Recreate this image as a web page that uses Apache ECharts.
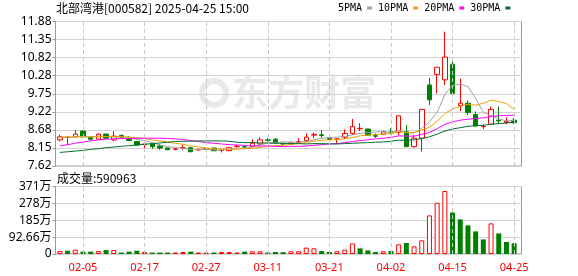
<!DOCTYPE html>
<html><head><meta charset="utf-8">
<script src="https://cdn.jsdelivr.net/npm/echarts@6/dist/echarts.min.js"></script>
<style>html,body{margin:0;padding:0;background:#fff}#c{width:578px;height:276px}</style>
</head><body><div id="c"></div>
<script>
// ---- data ----
const dates = ['01-23','01-24','01-27','02-05','02-06','02-07','02-10','02-11','02-12','02-13',
 '02-14','02-17','02-18','02-19','02-20','02-21','02-24','02-25','02-26','02-27',
 '02-28','03-03','03-04','03-05','03-06','03-07','03-10','03-11','03-12','03-13',
 '03-14','03-17','03-18','03-19','03-20','03-21','03-24','03-25','03-26','03-27',
 '03-28','03-31','04-01','04-02','04-03','04-07','04-08','04-09','04-10','04-11',
 '04-14','04-15','04-16','04-17','04-18','04-21','04-22','04-23','04-24','04-25'];
const openP = [8.39,8.46,8.48,8.65,8.46,8.41,8.56,8.39,8.52,8.44,
 8.34,8.25,8.27,8.21,8.15,8.11,8.15,8.16,8.09,8.11,
 8.15,8.08,8.07,8.19,8.19,8.19,8.27,8.39,8.41,8.28,
 8.27,8.32,8.37,8.53,8.54,8.43,8.40,8.47,8.58,8.72,
 8.71,8.51,8.56,8.62,8.61,8.63,8.19,8.44,10.01,10.32,
 10.16,10.62,9.40,9.47,9.14,8.78,8.85,8.97,8.90,8.97];
const closeP = [8.48,8.47,8.56,8.48,8.41,8.56,8.44,8.50,8.47,8.37,
 8.24,8.27,8.19,8.15,8.10,8.12,8.16,8.04,8.11,8.13,
 8.07,8.09,8.16,8.20,8.18,8.29,8.39,8.38,8.30,8.27,
 8.30,8.34,8.47,8.55,8.52,8.40,8.42,8.58,8.78,8.73,
 8.53,8.50,8.63,8.61,9.10,8.19,8.44,9.29,9.57,10.53,
 10.83,9.76,9.47,9.20,8.80,8.79,9.29,8.95,8.93,8.90];
const lowP = [8.35,8.24,8.47,8.47,8.38,8.40,8.43,8.35,8.44,8.36,
 8.22,8.12,8.12,8.10,8.09,8.08,8.10,8.03,8.08,8.09,
 8.06,8.02,8.06,8.16,8.16,8.18,8.24,8.34,8.26,8.24,
 8.26,8.29,8.34,8.44,8.45,8.38,8.29,8.42,8.53,8.65,
 8.52,8.45,8.53,8.55,8.53,8.18,8.16,8.04,9.42,9.76,
 10.01,9.74,9.24,9.12,8.79,8.71,8.84,8.85,8.85,8.86];
const highP = [8.54,8.50,8.68,8.67,8.47,8.58,8.57,8.65,8.55,8.50,
 8.36,8.28,8.28,8.26,8.16,8.15,8.24,8.17,8.12,8.14,
 8.16,8.11,8.18,8.24,8.22,8.41,8.47,8.44,8.44,8.30,
 8.31,8.44,8.58,8.61,8.68,8.46,8.44,8.70,9.01,8.88,
 8.72,8.58,8.66,8.73,9.12,8.83,8.53,9.30,10.22,10.53,
 11.58,10.70,10.19,9.55,9.23,8.85,9.37,9.37,9.06,9.03];
// volume in 万手
const volume = [16,18,24,13,13,16,22,22,8,13,
 18,11,8,8,8,8,11,13,8,8,
 8,11,11,8,13,15,15,8,11,10,
 15,15,35,31,16,11,15,24,58,31,
 20,11,15,16,53,60,42,75,212,281,
 346,228,190,157,124,80,168,113,66,59.0963];
const ma5 = [8.46,8.47,8.48,8.49,8.48,8.50,8.49,8.48,8.48,8.47,
 8.40,8.37,8.31,8.24,8.19,8.17,8.14,8.11,8.11,8.11,
 8.10,8.09,8.11,8.13,8.14,8.18,8.24,8.29,8.31,8.33,
 8.33,8.32,8.34,8.39,8.44,8.46,8.47,8.49,8.54,8.58,
 8.61,8.62,8.63,8.60,8.67,8.61,8.59,8.73,8.92,9.20,
 9.73,10.00,10.03,9.96,9.61,9.20,9.11,9.01,8.95,8.97];
const ma10 = [8.47,8.47,8.48,8.48,8.48,8.48,8.49,8.49,8.48,8.47,
 8.45,8.43,8.39,8.36,8.33,8.29,8.26,8.21,8.18,8.15,
 8.13,8.12,8.11,8.12,8.13,8.14,8.17,8.20,8.22,8.23,
 8.26,8.28,8.31,8.35,8.38,8.39,8.40,8.42,8.46,8.51,
 8.53,8.55,8.56,8.57,8.63,8.61,8.61,8.68,8.76,8.94,
 9.17,9.30,9.38,9.44,9.41,9.47,9.56,9.52,9.46,9.29];
const ma20 = [8.21,8.25,8.29,8.33,8.36,8.39,8.41,8.42,8.43,8.43,
 8.44,8.44,8.44,8.44,8.43,8.42,8.40,8.37,8.34,8.31,
 8.29,8.27,8.25,8.24,8.23,8.21,8.21,8.21,8.20,8.19,
 8.20,8.20,8.21,8.23,8.25,8.27,8.28,8.31,8.34,8.37,
 8.39,8.42,8.44,8.46,8.51,8.50,8.50,8.55,8.61,8.72,
 8.85,8.92,8.97,9.00,9.02,9.04,9.08,9.10,9.11,9.12];
const ma30 = [8.02,8.04,8.06,8.08,8.11,8.13,8.16,8.18,8.20,8.22,
 8.24,8.26,8.28,8.30,8.32,8.34,8.35,8.35,8.36,8.36,
 8.36,8.36,8.35,8.32,8.31,8.31,8.30,8.30,8.29,8.29,
 8.28,8.28,8.27,8.28,8.28,8.27,8.27,8.28,8.29,8.30,
 8.31,8.32,8.33,8.35,8.38,8.38,8.39,8.43,8.48,8.56,
 8.65,8.71,8.75,8.79,8.81,8.82,8.85,8.87,8.89,8.91];
const priceTicks = ['7.62','8.15','8.68','9.22','9.75','10.28','10.82','11.35','11.88'];
const volTicks = ['0','92.66万','185万','278万','371万'];
const xLabelDates = ['02-05','02-17','02-27','03-11','03-21','04-02','04-15','04-25'];
const maNames = ['5PMA','10PMA','20PMA','30PMA'];

// ---- chart ----
const UP = '#ff0000', DOWN = '#008000';
const PMIN = 7.62, PMAX = 11.88, PSTEP = 0.5325;
const VSTEP = 92.66, VMAX = VSTEP * 4;
const candleData = dates.map((d, i) => [openP[i], closeP[i], lowP[i], highP[i]]);
const volData = volume.map((v, i) => {
  const prev = i > 0 ? closeP[i - 1] : openP[i];
  const up = closeP[i] >= prev;
  return { value: v, itemStyle: up ? { color: '#ffffff', borderColor: UP, borderWidth: 1 } : { color: DOWN, borderColor: DOWN, borderWidth: 0 } };
});
const dashLines = xLabelDates.map(d => ({ xAxis: d }));
const gridLineColor = '#d3d3d3';
const frameColor = '#999999';

const chart = echarts.init(document.getElementById('c'));
chart.setOption({
  animation: false,
  title: { text: '北部湾港[000582] 2025-04-25 15:00', left: 56, top: 2, padding: 0,
    textStyle: { fontSize: 12, fontWeight: 'normal', color: '#000', fontFamily: 'Noto Sans CJK SC' } },
  legend: { left: 338, top: 3, padding: 0, align: 'right', icon: 'rect', itemWidth: 5, itemHeight: 3, itemGap: 6,
    selectedMode: false, data: maNames,
    textStyle: { fontFamily: 'DejaVu Sans Mono', fontSize: 10, color: '#000' } },
  graphic: [
    { type: 'text', left: 232, top: 74, z: -1, silent: true,
      style: { text: '东方财富', font: 'bold 36px "Noto Sans CJK SC"', fill: '#e9e9ec' } },
    { type: 'circle', shape: { cx: 214, cy: 93, r: 12 }, z: -1, silent: true,
      style: { fill: 'none', stroke: '#e9e9ec', lineWidth: 6 } },
    { type: 'text', left: 57, top: 172, silent: true,
      style: { text: '成交量:590963', font: '12px "Noto Sans CJK SC"', fill: '#000' } }
  ],
  grid: [
    { left: 56, top: 21.5, width: 462, height: 144.5 },
    { left: 56, top: 186.5, width: 462, height: 67.5 },
    { left: 55.5, top: 21.5, width: 466, height: 144.5, show: true, borderColor: frameColor, borderWidth: 1, backgroundColor: 'transparent' },
    { left: 55.5, top: 186.5, width: 466, height: 67.5, show: true, borderColor: frameColor, borderWidth: 1, backgroundColor: 'transparent' }
  ],
  xAxis: [
    { type: 'category', gridIndex: 0, data: dates, boundaryGap: true, show: false },
    { type: 'category', gridIndex: 1, data: dates, boundaryGap: true,
      axisLine: { show: false }, axisTick: { show: false }, splitLine: { show: false },
      axisLabel: { interval: (i, v) => xLabelDates.includes(v), color: '#ff0000', fontSize: 11, fontFamily: 'Noto Sans', margin: 8 } },
    { type: 'value', gridIndex: 2, min: 0, max: 1, show: false },
    { type: 'value', gridIndex: 3, min: 0, max: 1, show: false }
  ],
  yAxis: [
    { type: 'value', gridIndex: 0, min: PMIN, max: PMAX, show: false },
    { type: 'value', gridIndex: 1, min: 0, max: VMAX, show: false },
    { type: 'value', gridIndex: 2, min: PMIN, max: PMAX, interval: PSTEP,
      axisLine: { show: true, lineStyle: { color: frameColor } },
      axisTick: { show: true, length: 3, lineStyle: { color: frameColor } },
      axisLabel: { formatter: v => priceTicks[Math.round((v - PMIN) / PSTEP)], color: '#000', fontSize: 12, fontFamily: 'Noto Sans', margin: 4 },
      splitLine: { show: true, lineStyle: { color: gridLineColor } } },
    { type: 'value', gridIndex: 3, min: 0, max: VMAX, interval: VSTEP,
      axisLine: { show: true, lineStyle: { color: frameColor } },
      axisTick: { show: true, length: 3, lineStyle: { color: frameColor } },
      axisLabel: { formatter: v => volTicks[Math.round(v / VSTEP)], color: '#000', fontSize: 12, fontFamily: 'Noto Sans, Noto Sans CJK SC', margin: 4 },
      splitLine: { show: true, lineStyle: { color: gridLineColor } } }
  ],
  series: [
    { type: 'line', xAxisIndex: 0, yAxisIndex: 0, data: [], silent: true, z: 1,
      markLine: { symbol: 'none', silent: true, animation: false, label: { show: false },
        lineStyle: { type: [4, 3], color: '#c8c8c8', width: 1 }, data: dashLines } },
    { type: 'line', xAxisIndex: 1, yAxisIndex: 1, data: [], silent: true, z: 1,
      markLine: { symbol: 'none', silent: true, animation: false, label: { show: false },
        lineStyle: { type: [4, 3], color: '#c8c8c8', width: 1 }, data: dashLines } },
    { type: 'candlestick', name: 'K', xAxisIndex: 0, yAxisIndex: 0, data: candleData, barWidth: 5,
      itemStyle: { color: '#ffffff', color0: DOWN, borderColor: UP, borderColor0: DOWN, borderWidth: 1 } },
    { type: 'line', name: maNames[0], xAxisIndex: 0, yAxisIndex: 0, data: ma5, showSymbol: false, color: '#a0a0a0', lineStyle: { width: 1 } },
    { type: 'line', name: maNames[1], xAxisIndex: 0, yAxisIndex: 0, data: ma10, showSymbol: false, color: '#f0a000', lineStyle: { width: 1 } },
    { type: 'line', name: maNames[2], xAxisIndex: 0, yAxisIndex: 0, data: ma20, showSymbol: false, color: '#ff00ff', lineStyle: { width: 1 } },
    { type: 'line', name: maNames[3], xAxisIndex: 0, yAxisIndex: 0, data: ma30, showSymbol: false, color: '#006f2f', lineStyle: { width: 1 } },
    { type: 'bar', name: 'VOL', xAxisIndex: 1, yAxisIndex: 1, data: volData, barWidth: 5 }
  ]
});
</script>
</body></html>
